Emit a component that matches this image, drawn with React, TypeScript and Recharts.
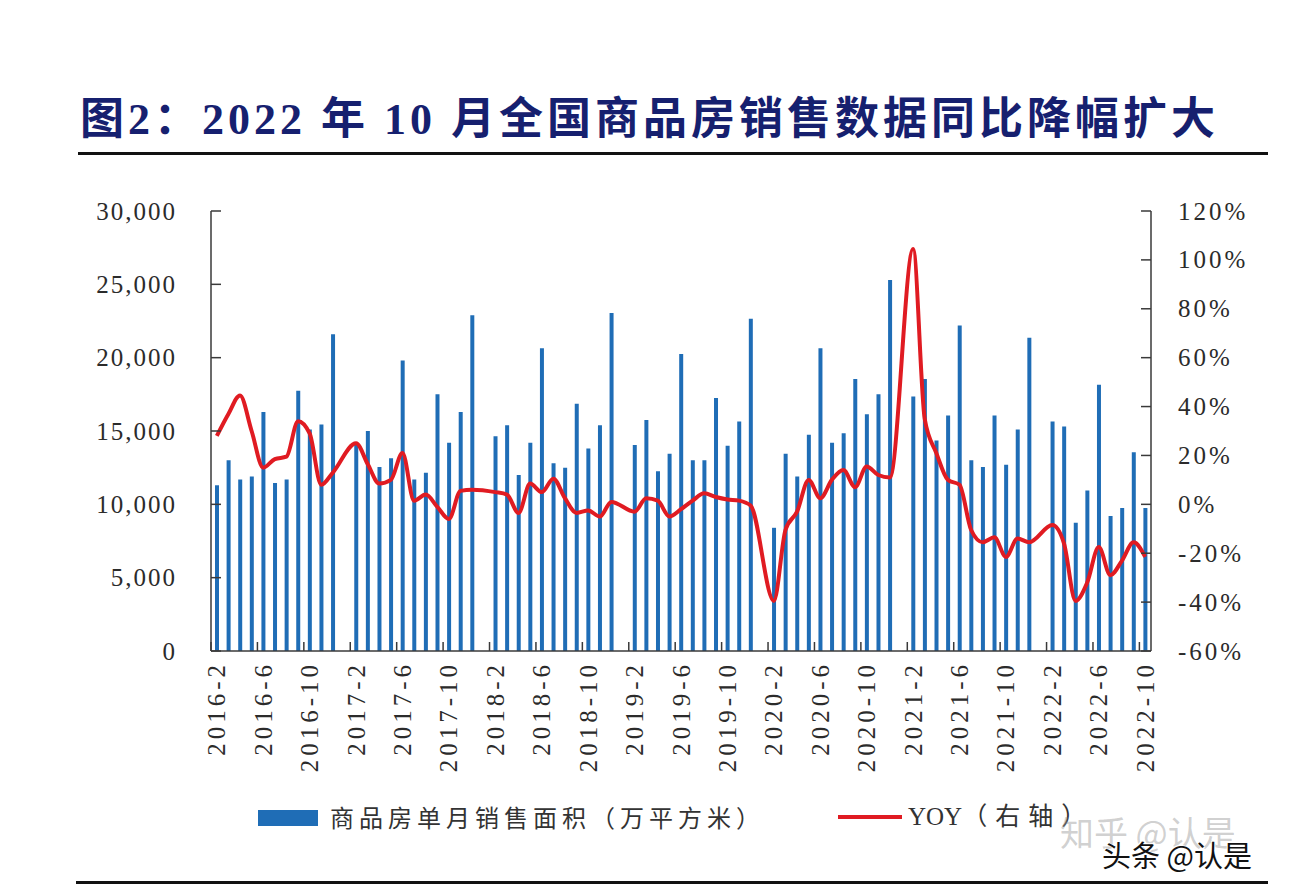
import React from 'react';
import { Bar, ComposedChart, Line, XAxis, YAxis } from 'recharts';

const YEARS = [2016, 2017, 2018, 2019, 2020, 2021, 2022];

// 1月数据与2月合并发布，所以1月的位置留空（2016年从2月开始，2022年到10月）
const AREA_2016 = [11300, 13000, 11700, 11900, 16300, 11450, 11700, 17750, 15100, 15450, 21600];
const AREA_2017 = [null, 14100, 15000, 12550, 13150, 19800, 11700, 12150, 17500, 14200, 16300, 22900];
const AREA_2018 = [null, 14650, 15400, 12000, 14200, 20650, 12800, 12500, 16850, 13800, 15400, 23050];
const AREA_2019 = [null, 14050, 15750, 12250, 13450, 20250, 13000, 13000, 17250, 14000, 15650, 22650];
const AREA_2020 = [null, 8400, 13450, 11900, 14750, 20650, 14200, 14850, 18550, 16150, 17500, 25300];
const AREA_2021 = [null, 17350, 18550, 14350, 16050, 22200, 13000, 12550, 16050, 12700, 15100, 21350];
const AREA_2022 = [null, 15650, 15300, 8750, 10950, 18150, 9200, 9750, 13550, 9750];

const YOY_2016 = [28, 37, 44.5, 30, 15, 18.5, 19.5, 34, 29, 8, 13];
const YOY_2017 = [null, 25, 16.5, 8.5, 10, 21, 1.5, 4, -1, -6, 5.5, 6];
const YOY_2018 = [null, 5, 4, -3.5, 8.5, 5, 10.5, 2.5, -3.5, -2.5, -5, 1];
const YOY_2019 = [null, -3, 2.5, 1.5, -5, -2, 1.5, 4.5, 3, 2, 1.5, -0.5];
const YOY_2020 = [null, -39.5, -10.5, -3, 10, 2.5, 10, 14, 7, 15.5, 12, 11];
const YOY_2021 = [null, 104.5, 35, 21, 10, 8, -10.5, -15.5, -13.5, -21.5, -14, -15.5];
const YOY_2022 = [null, -8.5, -16, -39.5, -32, -17.5, -29, -23, -15.5, -21.5];

const LEFT_TICKS = [0, 5000, 10000, 15000, 20000, 25000, 30000];
const RIGHT_TICKS = [-60, -40, -20, 0, 20, 40, 60, 80, 100, 120];

const AREA = [...AREA_2016, ...AREA_2017, ...AREA_2018, ...AREA_2019, ...AREA_2020, ...AREA_2021, ...AREA_2022];
const YOY = [...YOY_2016, ...YOY_2017, ...YOY_2018, ...YOY_2019, ...YOY_2020, ...YOY_2021, ...YOY_2022];

const MONTHS: string[] = [];
YEARS.forEach((yr) => {
  for (let m = 1; m <= 12; m++) {
    if (yr === 2016 && m === 1) continue;
    if (yr === 2022 && m > 10) continue;
    MONTHS.push(`${yr}-${m}`);
  }
});

const data = MONTHS.map((name, i) => ({ name, area: AREA[i], yoy: YOY[i] }));

const BLUE = '#1f6db6';
const RED = '#e01b22';
const AXIS = '#3a3a3a';
const LABEL = '#2b2b2b';
const SERIF = "'Liberation Serif', 'DejaVu Serif', serif";
const CJK = "'Noto Sans CJK SC', sans-serif";

const PLOT_LEFT = 211;
const PLOT_RIGHT = 1151;
const BAND = (PLOT_RIGHT - PLOT_LEFT) / MONTHS.length;

function LeftTick({ x, y, payload }: any) {
  return (
    <g>
      <line x1={x} x2={x + 10} y1={y} y2={y} stroke={AXIS} strokeWidth={1.5} />
      <text x={x - 34} y={y} textAnchor="end" dominantBaseline="central" fontFamily={SERIF} fontSize={25} letterSpacing={2} fill={LABEL}>
        {Number(payload.value).toLocaleString('en-US')}
      </text>
    </g>
  );
}

function RightTick({ x, y, payload }: any) {
  return (
    <g>
      <line x1={x - 10} x2={x} y1={y} y2={y} stroke={AXIS} strokeWidth={1.5} />
      <text x={x + 27} y={y} textAnchor="start" dominantBaseline="central" fontFamily={SERIF} fontSize={25} letterSpacing={3} fill={LABEL}>
        {`${payload.value}%`}
      </text>
    </g>
  );
}

function MonthTick({ x, y, payload }: any) {
  const tx = x - BAND / 2;
  return (
    <g>
      <line x1={tx} x2={tx} y1={y} y2={y - 9} stroke={AXIS} strokeWidth={1.5} />
      <text
        x={x}
        y={y + 10}
        transform={`rotate(-90, ${x}, ${y + 10})`}
        textAnchor="end"
        dominantBaseline="central"
        fontFamily={SERIF}
        fontSize={25}
        letterSpacing={4}
        fill={LABEL}
      >
        {payload.value}
      </text>
    </g>
  );
}

export default function App() {
  return (
    <div style={{ position: 'absolute', left: 0, top: 0, width: 1300, height: 896, background: '#fff', overflow: 'hidden' }}>
      <div
        style={{
          position: 'absolute',
          left: 80,
          top: 92,
          fontFamily: `${SERIF.split(',')[0]}, ${CJK}`,
          fontWeight: 'bold',
          fontSize: 44,
          letterSpacing: 4,
          color: '#16206f',
          whiteSpace: 'nowrap',
          lineHeight: '56px',
        }}
      >
        图2：2022 年 10 月全国商品房销售数据同比降幅扩大
      </div>
      <div style={{ position: 'absolute', left: 78, top: 152, width: 1190, height: 3, background: '#111' }} />

      <ComposedChart
        width={1300}
        height={896}
        data={data}
        margin={{ top: 211, right: 0, bottom: 0, left: 0 }}
        style={{ position: 'absolute', left: 0, top: 0 }}
      >
        <XAxis
          dataKey="name"
          interval={3}
          height={245}
          tickLine={false}
          tickSize={0}
          tickMargin={0}
          axisLine={{ stroke: AXIS, strokeWidth: 1.5 }}
          tick={(p: any) => <MonthTick {...p} />}
        />
        <YAxis
          yAxisId="left"
          orientation="left"
          width={PLOT_LEFT}
          domain={[0, 30000]}
          ticks={LEFT_TICKS}
          interval={0}
          tickLine={false}
          tickSize={0}
          tickMargin={0}
          axisLine={{ stroke: AXIS, strokeWidth: 1.5 }}
          tick={(p: any) => <LeftTick {...p} />}
        />
        <YAxis
          yAxisId="right"
          orientation="right"
          width={1300 - PLOT_RIGHT}
          domain={[-60, 120]}
          ticks={RIGHT_TICKS}
          interval={0}
          tickLine={false}
          tickSize={0}
          tickMargin={0}
          axisLine={{ stroke: AXIS, strokeWidth: 1.5 }}
          tick={(p: any) => <RightTick {...p} />}
        />
        <Bar yAxisId="left" dataKey="area" fill={BLUE} barSize={4} isAnimationActive={false} />
        <Line
          yAxisId="right"
          dataKey="yoy"
          type="monotone"
          stroke={RED}
          strokeWidth={4}
          dot={false}
          activeDot={false}
          connectNulls
          isAnimationActive={false}
        />
      </ComposedChart>

      <div style={{ position: 'absolute', left: 258, top: 810, width: 60, height: 16, background: BLUE }} />
      <div
        style={{
          position: 'absolute',
          left: 330,
          top: 801,
          fontFamily: CJK,
          fontSize: 24,
          letterSpacing: 5,
          color: '#333',
          whiteSpace: 'nowrap',
          lineHeight: '32px',
        }}
      >
        商品房单月销售面积（万平方米）
      </div>
      <div style={{ position: 'absolute', left: 838, top: 815, width: 64, height: 4, background: RED }} />
      <div
        style={{
          position: 'absolute',
          left: 908,
          top: 801,
          fontFamily: `${SERIF.split(',')[0]}, ${CJK}`,
          fontSize: 25,
          color: '#333',
          whiteSpace: 'nowrap',
          lineHeight: '32px',
        }}
      >
        <span style={{ letterSpacing: 0 }}>YOY</span>
        <span style={{ letterSpacing: 8 }}>（右轴）</span>
      </div>

      <div
        style={{
          position: 'absolute',
          left: 1060,
          top: 812,
          fontFamily: CJK,
          fontSize: 34,
          color: 'rgba(150,150,150,0.45)',
          whiteSpace: 'nowrap',
          lineHeight: '40px',
        }}
      >
        知乎 @认是
      </div>
      <div
        style={{
          position: 'absolute',
          left: 1102,
          top: 836,
          fontFamily: CJK,
          fontSize: 29,
          color: '#111',
          whiteSpace: 'nowrap',
          lineHeight: '36px',
          textShadow: '1px 1px 0 #fff, -1px -1px 0 #fff',
        }}
      >
        头条 @认是
      </div>
      <div style={{ position: 'absolute', left: 76, top: 881, width: 1192, height: 3, background: '#111' }} />
    </div>
  );
}
